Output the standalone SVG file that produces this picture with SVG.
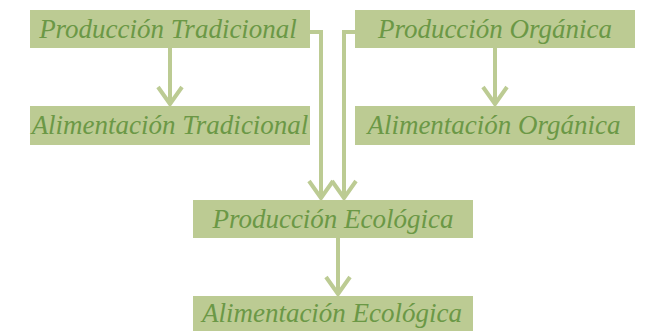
<svg xmlns="http://www.w3.org/2000/svg" width="650" height="331" viewBox="0 0 650 331">
<defs>
<style>
.box{fill:#bccb93;}
.lbl{font-family:"Liberation Serif","DejaVu Serif",serif;font-style:italic;font-size:27px;fill:#6b9846;text-anchor:middle;dominant-baseline:central;}
.conn{fill:none;stroke:#bccb93;stroke-width:4;}
</style>
<marker id="chev" markerUnits="userSpaceOnUse" orient="auto" refX="0" refY="0" markerWidth="40" markerHeight="40" viewBox="-20 -20 40 40" overflow="visible">
<path d="M-17,-12 L0,0 L-17,12" fill="none" stroke="#bccb93" stroke-width="4"/>
</marker>
</defs>
<rect width="650" height="331" fill="#ffffff"/>
<g id="connectors">
<path class="conn" d="M170,48 V104" marker-end="url(#chev)"/>
<path class="conn" d="M310,32 H321 V198" marker-end="url(#chev)"/>
<path class="conn" d="M355,32 H344 V198" marker-end="url(#chev)"/>
<path class="conn" d="M495,48 V104" marker-end="url(#chev)"/>
<path class="conn" d="M338,238 V294" marker-end="url(#chev)"/>
</g>
<g id="prod-trad"><rect class="box" x="30" y="10" width="280" height="38"/><text class="lbl" x="168" y="29">Producción Tradicional</text></g>
<g id="alim-trad"><rect class="box" x="30" y="106" width="280" height="39"/><text class="lbl" x="170" y="125">Alimentación Tradicional</text></g>
<g id="prod-org"><rect class="box" x="355" y="10" width="280" height="38"/><text class="lbl" x="495" y="29">Producción Orgánica</text></g>
<g id="alim-org"><rect class="box" x="355" y="106" width="280" height="39"/><text class="lbl" x="494" y="125">Alimentación Orgánica</text></g>
<g id="prod-eco"><rect class="box" x="193" y="200" width="280" height="38"/><text class="lbl" x="333" y="219">Producción Ecológica</text></g>
<g id="alim-eco"><rect class="box" x="193" y="296" width="280" height="35"/><text class="lbl" x="332" y="313">Alimentación Ecológica</text></g>
</svg>
